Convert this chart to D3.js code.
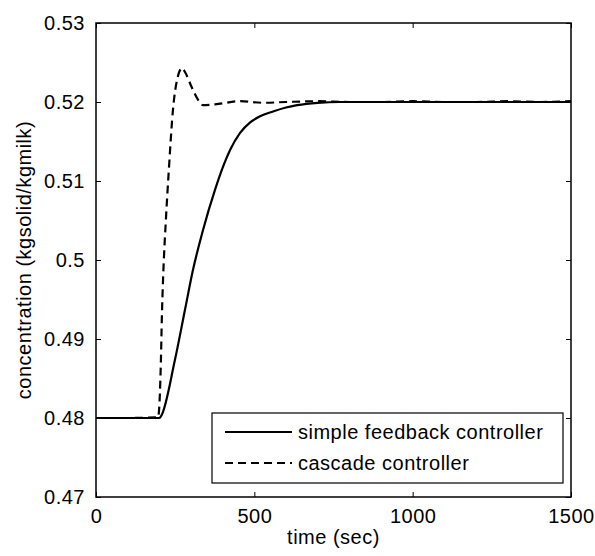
<!DOCTYPE html>
<html>
<head>
<meta charset="utf-8">
<script src="https://cdn.jsdelivr.net/npm/d3@7"></script>
<style>
  html, body { margin: 0; padding: 0; background: #fff; }
  svg text { font-family: "Liberation Sans", Arial, sans-serif; fill: #000; }
</style>
</head>
<body>
<div id="chart"></div>
<script>
// Time (sec) and concentration values
const timeSimple = [0, 100, 200, 205, 249, 281, 306, 338, 376, 392, 404, 423, 455, 486, 518, 559, 600, 635, 700, 771, 900, 1100, 1300, 1500];
const valSimple  = [0.48, 0.48, 0.48, 0.4802, 0.4873, 0.4937, 0.4987, 0.5038, 0.5089, 0.5108, 0.5121, 0.5139, 0.5161, 0.5174, 0.5182, 0.5188, 0.5193, 0.5196, 0.5199, 0.5200, 0.5200, 0.5200, 0.5200, 0.5200];

const timeCascade = [0, 100, 196, 205, 208, 212, 221, 230, 243, 256, 272, 281, 303, 322, 338, 376, 455, 527, 600, 700, 800, 900, 1000, 1100, 1200, 1300, 1400, 1500];
const valCascade  = [0.48, 0.48, 0.4801, 0.4873, 0.4928, 0.4978, 0.5053, 0.5114, 0.5190, 0.5228, 0.5243, 0.5238, 0.5218, 0.5203, 0.5196, 0.5197, 0.5201, 0.5199, 0.5200, 0.5201, 0.5200, 0.5200, 0.5201, 0.5200, 0.5200, 0.5201, 0.5200, 0.5201];

const xTicks = [0, 500, 1000, 1500];
const yTicks = [0.47, 0.48, 0.49, 0.5, 0.51, 0.52, 0.53];
const yTickLabels = ["0.47", "0.48", "0.49", "0.5", "0.51", "0.52", "0.53"];

const seriesNames = ["simple feedback controller", "cascade controller"];

const width = 595, height = 556;
const margin = { top: 23, right: 24, bottom: 59, left: 96 };
const plotW = width - margin.left - margin.right;
const plotH = height - margin.top - margin.bottom;

const svg = d3.select("#chart")
    .append("svg")
    .attr("width", width)
    .attr("height", height);

const x = d3.scaleLinear().domain([0, 1500]).range([0, plotW]);
const y = d3.scaleLinear().domain([0.47, 0.53]).range([plotH, 0]);

const g = svg.append("g")
    .attr("transform", `translate(${margin.left},${margin.top})`);

g.append("clipPath").attr("id", "clip")
  .append("rect").attr("width", plotW).attr("height", plotH);

// Axes with inward ticks on all four sides
const fontSize = 20;
const axisStyle = sel => {
    sel.select(".domain").remove();
    sel.selectAll("line").attr("stroke", "#000").attr("stroke-width", 1);
    sel.selectAll("text")
        .style("font-size", fontSize + "px")
        .style("letter-spacing", "0.5px")
        .attr("fill", "#000");
};

g.append("g")
    .attr("transform", `translate(0,${plotH})`)
    .call(d3.axisBottom(x).tickValues(xTicks).tickSize(-5).tickSizeOuter(0).tickPadding(12)
        .tickFormat(d3.format("d")))
    .call(axisStyle)
    .selectAll("text").attr("dy", "0.71em");

g.append("g")
    .call(d3.axisTop(x).tickValues(xTicks).tickSize(-5).tickSizeOuter(0).tickFormat(""))
    .call(axisStyle);

g.append("g")
    .call(d3.axisLeft(y).tickValues(yTicks).tickSize(-5).tickSizeOuter(0).tickPadding(11)
        .tickFormat((d, i) => yTickLabels[i]))
    .call(axisStyle);

g.append("g")
    .attr("transform", `translate(${plotW},0)`)
    .call(d3.axisRight(y).tickValues(yTicks).tickSize(-5).tickSizeOuter(0).tickFormat(""))
    .call(axisStyle);

// Lines
const line = d3.line()
    .x(d => x(d[0]))
    .y(d => y(d[1]))
    .curve(d3.curveMonotoneX);

const simpleData = timeSimple.map((t, i) => [t, valSimple[i]]);
const cascadeData = timeCascade.map((t, i) => [t, valCascade[i]]);

const lines = g.append("g").attr("clip-path", "url(#clip)");

lines.append("path")
    .datum(simpleData)
    .attr("d", line)
    .attr("fill", "none")
    .attr("stroke", "#000")
    .attr("stroke-width", 2.2);

lines.append("path")
    .datum(cascadeData)
    .attr("d", line)
    .attr("fill", "none")
    .attr("stroke", "#000")
    .attr("stroke-width", 2.2)
    .attr("stroke-dasharray", "8,5");

// Frame
g.append("rect")
    .attr("width", plotW)
    .attr("height", plotH)
    .attr("fill", "none")
    .attr("stroke", "#000")
    .attr("stroke-width", 1.5);

// Axis labels
svg.append("text")
    .attr("x", margin.left + plotW / 2)
    .attr("y", 544)
    .attr("text-anchor", "middle")
    .style("font-size", fontSize + "px")
    .style("letter-spacing", "0.5px")
    .text("time (sec)");

svg.append("text")
    .attr("transform", `translate(31,${margin.top + plotH / 2}) rotate(-90)`)
    .attr("text-anchor", "middle")
    .style("font-size", fontSize + "px")
    .style("letter-spacing", "0.5px")
    .text("concentration (kgsolid/kgmilk)");

// Legend
const legend = g.append("g")
    .attr("transform", `translate(${212 - margin.left},${413 - margin.top})`);

legend.append("rect")
    .attr("width", 351)
    .attr("height", 70)
    .attr("fill", "#fff")
    .attr("stroke", "#000")
    .attr("stroke-width", 1.2);

const legendItems = legend.selectAll(".item")
    .data(seriesNames)
    .join("g")
    .attr("class", "item")
    .attr("transform", (d, i) => `translate(0,${19 + i * 31})`);

legendItems.append("line")
    .attr("x1", 13).attr("x2", 80)
    .attr("stroke", "#000")
    .attr("stroke-width", 2.2)
    .attr("stroke-dasharray", (d, i) => i === 0 ? null : "8,5");

legendItems.append("text")
    .attr("x", 86)
    .attr("dy", "0.35em")
    .style("font-size", fontSize + "px")
    .style("letter-spacing", "0.5px")
    .text(d => d);
</script>
</body>
</html>
